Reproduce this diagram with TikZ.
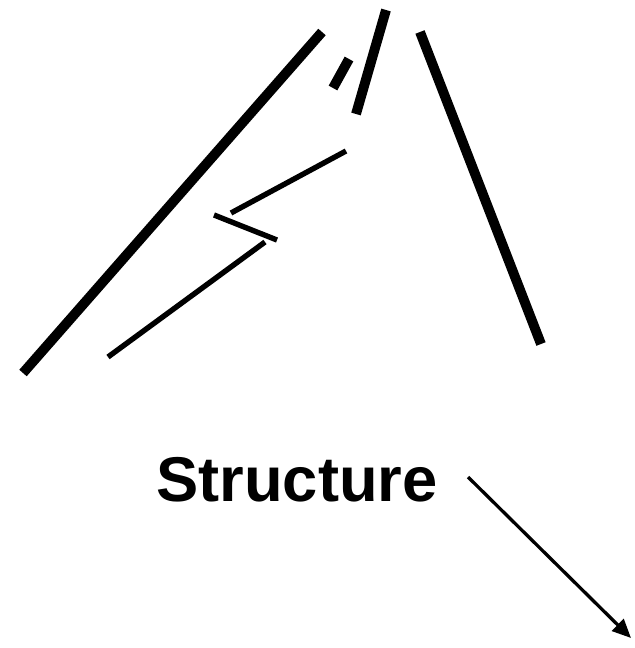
\documentclass[tikz,border=0pt]{standalone}
\usepackage{fontspec}
\setmainfont{Liberation Sans}
\usetikzlibrary{arrows.meta}

\tikzset{
    heavy/.style={line width=8.4pt, line cap=butt},
    light/.style={line width=4.6pt, line cap=butt},
}

\begin{document}
\begin{tikzpicture}[x=0.03cm, y=-0.03cm]

\useasboundingbox (0,0) rectangle (634,648);

%% === tratti spessi ===
\draw[heavy] (23,373) -- (322,32);
\draw[heavy] (333,88) -- (349,59);
\draw[heavy] (356,114) -- (386,10);
\draw[heavy] (420,32) -- (541,344);

%% === zigzag sottile ===
\draw[light] (346,151) -- (231,213);
\draw[light] (214,215) -- (277,240);
\draw[light] (265,242) -- (108,357);

%% === etichetta e freccia ===
\node[font=\bfseries\fontsize{54}{60}\selectfont, inner sep=0pt] (lbl) at (297,480) {Structure};
\coordinate (from) at (468,477);
\coordinate (to) at (631,638);
\draw[line width=2.8pt, -{Triangle[length=16pt, width=14pt]}] (from) -- (to);

\end{tikzpicture}
\end{document}
